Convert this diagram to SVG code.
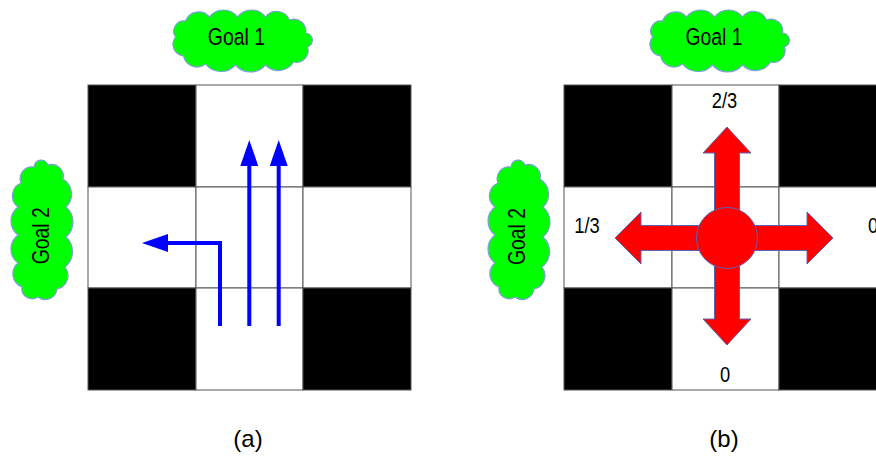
<svg xmlns="http://www.w3.org/2000/svg" width="876" height="457" viewBox="0 0 876 457">
<style>
.cell{fill:#fff;stroke:#555;stroke-width:1}
.wall{fill:#000;stroke:#555;stroke-width:1}
.cloud{fill:#00ff00;stroke:#7f9fd8;stroke-width:1.2}
.t{font-family:"Liberation Sans",Arial,sans-serif;fill:#000}
.g{font-size:19.4px;text-anchor:middle}
.n{font-size:18.3px;text-anchor:middle}
.blue{fill:none;stroke:#0000ff;stroke-width:4}
.red{fill:#ff0000;stroke:#5a64b0;stroke-width:1}
</style>
<defs>
<path id="cloudShape" d="M-66,-4 A10.3,10.3 0 0 1 -56,-20 A14.1,14.1 0 0 1 -32,-24 A17.5,17.5 0 0 1 -4,-24 A17.5,17.5 0 0 1 24,-24 A13.9,13.9 0 0 1 48,-21 A11.8,11.8 0 0 1 64,-8 A7.2,7.2 0 0 1 66,6 A11.8,11.8 0 0 1 52,21 A17.7,17.7 0 0 1 24,24 A19.6,19.6 0 0 1 -6,24 A19.6,19.6 0 0 1 -36,23 A13.8,13.8 0 0 1 -58,15 A11.8,11.8 0 0 1 -66,-4 Z"/>
<marker id="ah" viewBox="0 0 26 18" markerWidth="26" markerHeight="18" refX="0" refY="9" orient="auto" markerUnits="userSpaceOnUse">
<path d="M0,0 L26,9 L0,18 Z" fill="#0000ff"/>
</marker>
<g id="grid">
<rect class="wall" x="0" y="85" width="108" height="102"/>
<rect class="cell" x="108" y="85" width="107" height="102"/>
<rect class="wall" x="215" y="85" width="108" height="102"/>
<rect class="cell" x="0" y="187" width="108" height="101"/>
<rect class="cell" x="108" y="187" width="107" height="101"/>
<rect class="cell" x="215" y="187" width="108" height="101"/>
<rect class="wall" x="0" y="288" width="108" height="102"/>
<rect class="cell" x="108" y="288" width="107" height="102"/>
<rect class="wall" x="215" y="288" width="108" height="102"/>
</g>
</defs>

<g id="panel-a">
<g id="grid-a"><use href="#grid" x="88"/></g>
<g id="goal1-a">
<use href="#cloudShape" class="cloud" transform="translate(241.5,41)"/>
<text class="t g" transform="translate(236.4,45) scale(1,1.2)">Goal 1</text>
</g>
<g id="goal2-a">
<use href="#cloudShape" class="cloud" transform="translate(42,231) rotate(-90)"/>
<text class="t g" transform="translate(49.3,235.8) rotate(-90) scale(1,1.2)">Goal 2</text>
</g>
<g id="connectors-a">
<path class="blue" d="M220,326 V243 H168" marker-end="url(#ah)"/>
<path class="blue" d="M249.3,326 V166" marker-end="url(#ah)"/>
<path class="blue" d="M278.7,326 V166" marker-end="url(#ah)"/>
</g>
<text class="t" x="248" y="446.7" font-size="24" text-anchor="middle">(a)</text>
</g>

<g id="panel-b">
<g id="grid-b"><use href="#grid" x="564"/></g>
<g id="goal1-b">
<use href="#cloudShape" class="cloud" transform="translate(718.5,41)"/>
<text class="t g" transform="translate(714,45) scale(1,1.2)">Goal 1</text>
</g>
<g id="goal2-b">
<use href="#cloudShape" class="cloud" transform="translate(519,231) rotate(-90)"/>
<text class="t g" transform="translate(525,236.5) rotate(-90) scale(1,1.2)">Goal 2</text>
</g>
<g id="agent">
<polygon class="red" points="714.5,238 714.5,153 703,153 727,127 751,153 739.5,153 739.5,238"/>
<polygon class="red" points="714.5,238 714.5,319 703,319 727,345 751,319 739.5,319 739.5,238"/>
<polygon class="red" points="727,225.5 641,225.5 641,212 615,238 641,264 641,250.5 727,250.5"/>
<polygon class="red" points="727,225.5 807,225.5 807,212 833,238 807,264 807,250.5 727,250.5"/>
<circle class="red" cx="727" cy="238" r="30.5"/>
</g>
<g id="labels-b" class="t">
<text class="n" transform="translate(724.5,107.7) scale(1,1.2)">2/3</text>
<text class="n" transform="translate(587,233.3) scale(1,1.2)">1/3</text>
<text class="n" transform="translate(873,233.3) scale(1,1.2)">0</text>
<text class="n" transform="translate(725,381.5) scale(1,1.2)">0</text>
</g>
<text class="t" x="724" y="446.7" font-size="24" text-anchor="middle">(b)</text>
</g>
</svg>
